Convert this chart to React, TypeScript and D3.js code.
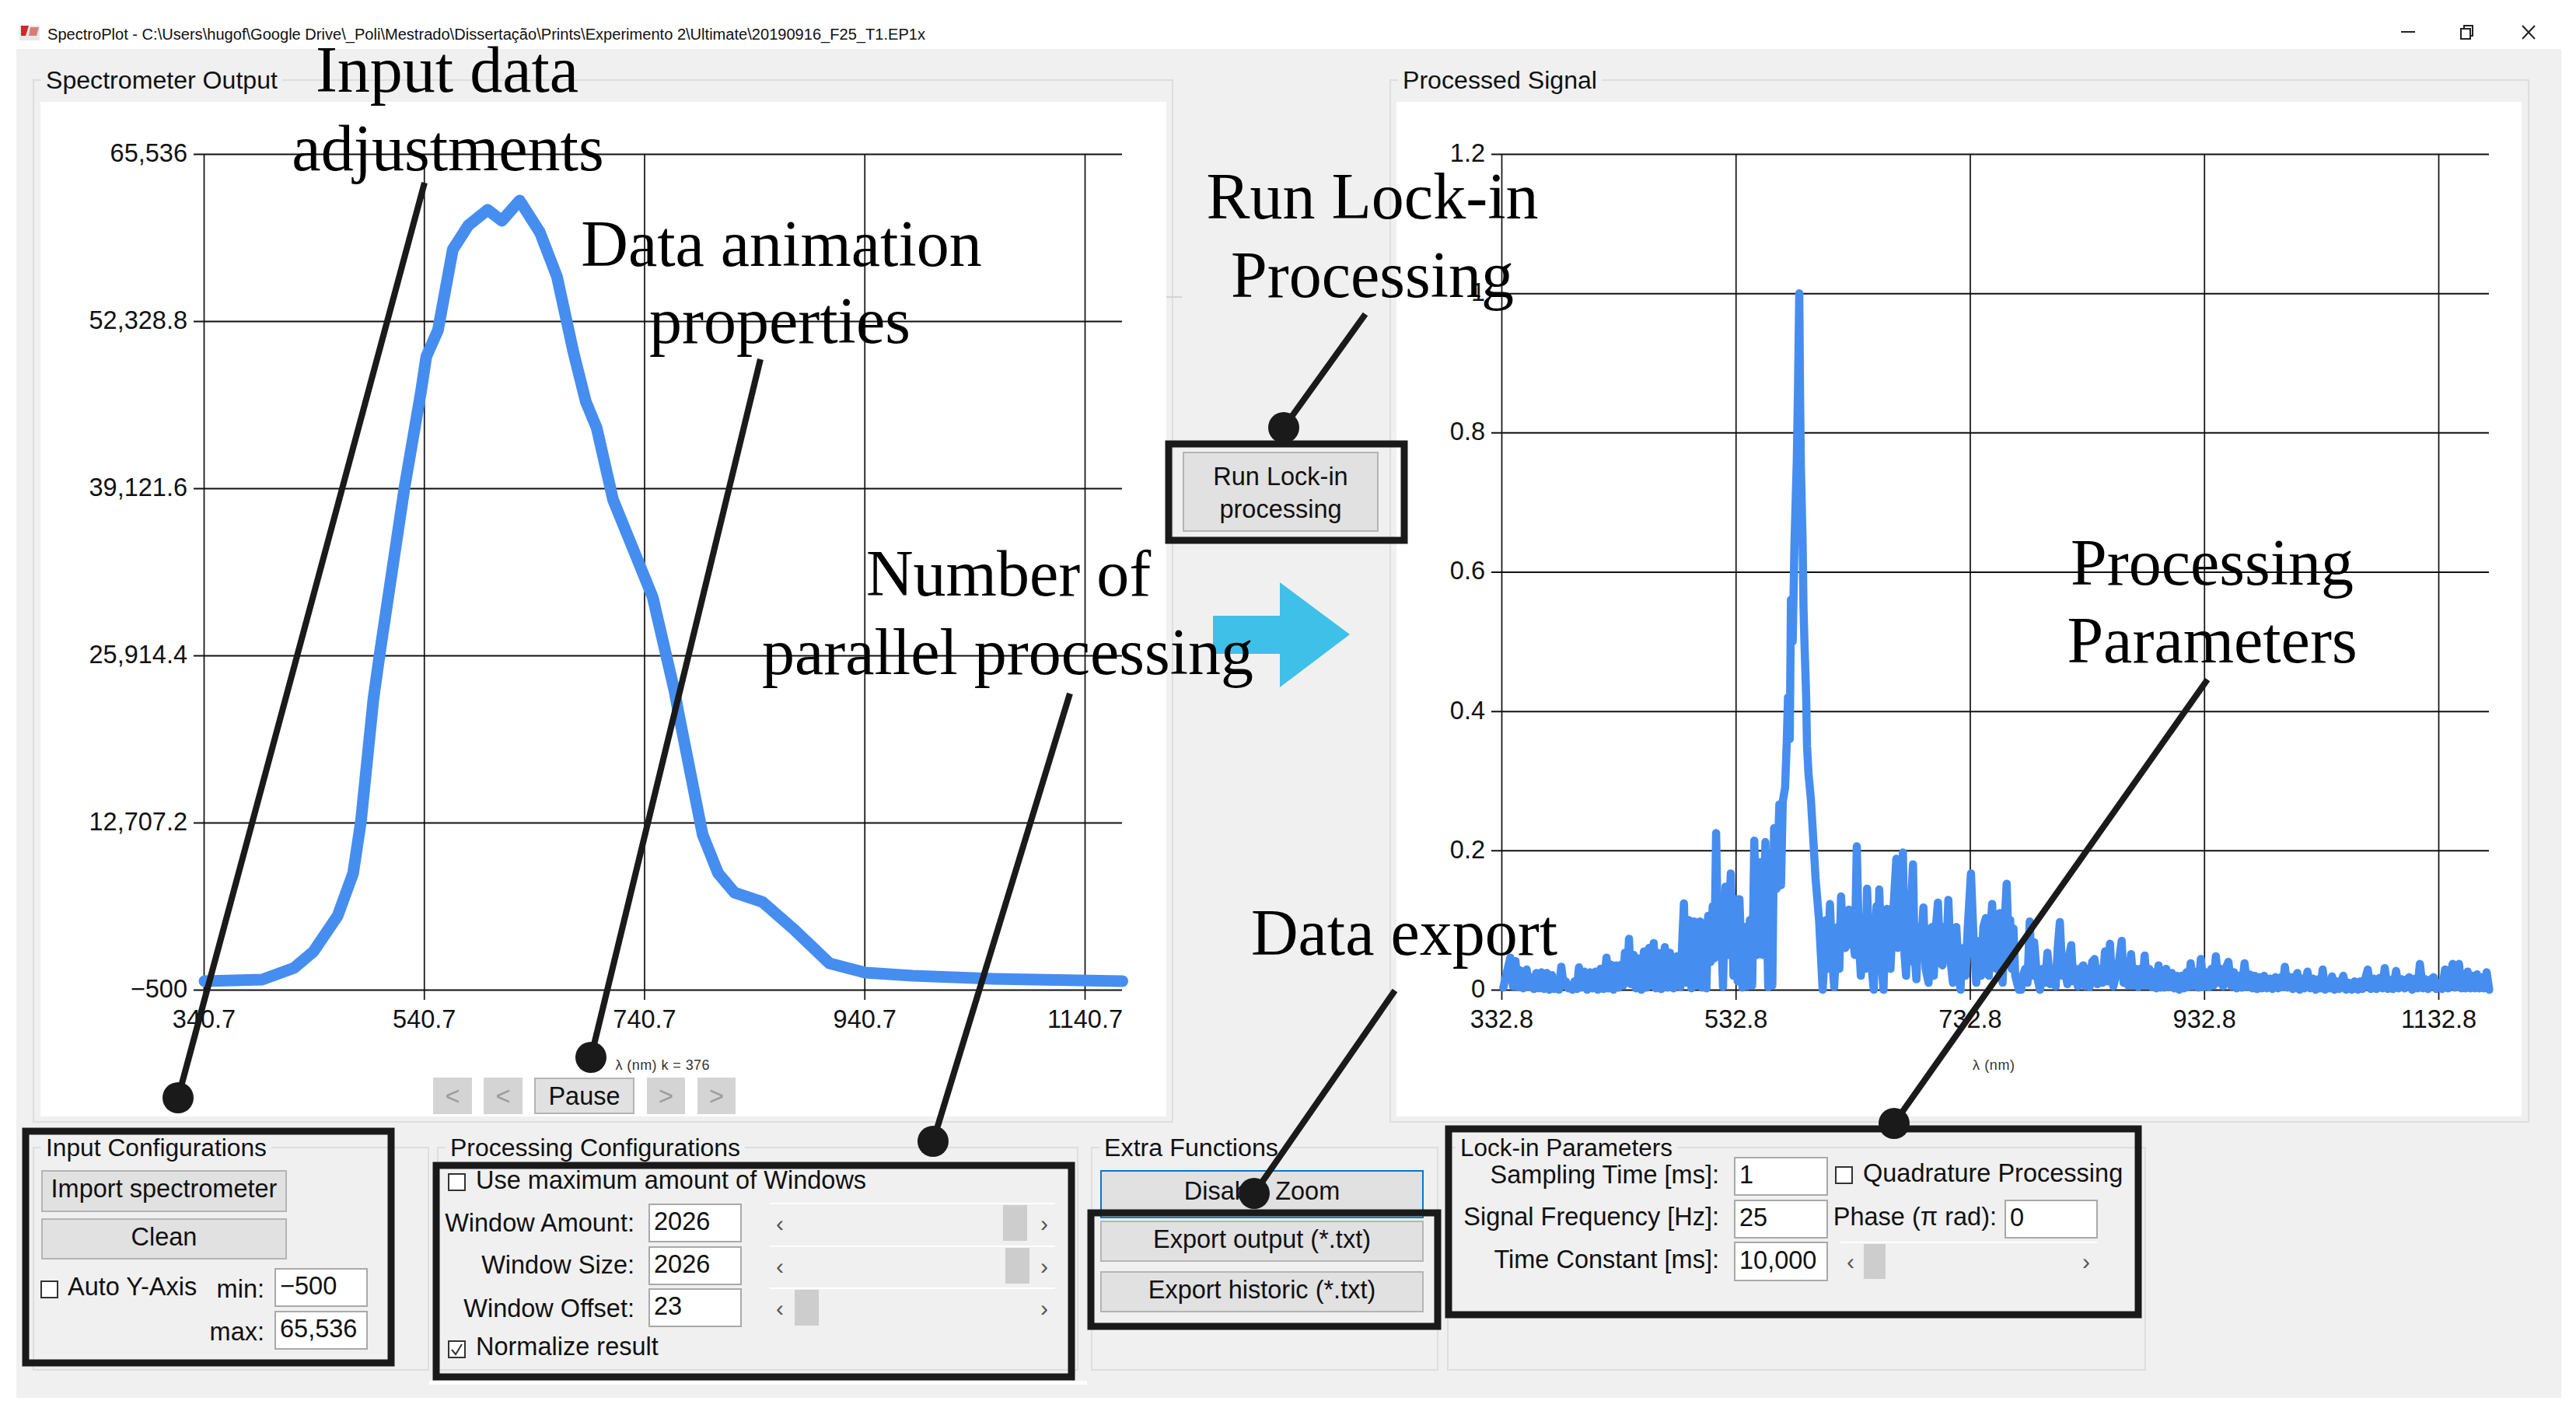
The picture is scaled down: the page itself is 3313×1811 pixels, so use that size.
import React, { useRef, useEffect } from "react";
import * as d3 from "d3";

// spectrometer output: [wavelength nm, counts]
const spectrometerCurve: [number, number][] = [
  [341.4, 177], [393.7, 300], [422.7, 1220], [440.3, 2509], [462.3, 5332], [476.4, 8707],
  [483.5, 12819], [494.8, 22454], [500.4, 25952], [523.0, 39147], [537.9, 46695], [542.8, 49518],
  [553.4, 51605], [566.9, 57987], [581.0, 59890], [598.6, 61117], [611.4, 60258], [627.6, 61854],
  [646.0, 59338], [661.5, 55840], [676.4, 49887], [687.7, 45959], [697.6, 43872], [712.4, 38226],
  [732.2, 33992], [748.5, 30494], [768.3, 23068], [771.8, 21411], [793.7, 11776], [807.8, 8707],
  [822.7, 7173], [848.1, 6437], [876.4, 4289], [908.9, 1588], [941.4, 852], [984.5, 607],
  [1057.3, 361], [1175, 177],
];
const spectrometerYTicks = [-500, 12707.2, 25914.4, 39121.6, 52328.8, 65536];
const spectrometerXTicks = [340.7, 540.7, 740.7, 940.7, 1140.7];

// processed signal, peak / trough pairs: [wavelength nm, amplitude]
const signalBlueSide: [number, number][] = [
  [334.4, 0.003], [340.4, 0.046], [342.7, 0.005], [344.8, 0.041], [346.6, 0.004], [348.4, 0.028], [351.3, 0.002],
  [354.3, 0.029], [356.4, 0.004], [358.4, 0.018], [360.5, 0.001], [362.6, 0.024], [365, 0.002], [367, 0.025],
  [369.1, 0.001], [371.5, 0.024], [373.6, 0], [375.9, 0.021], [378, 0.001], [379.8, 0.014], [381.9, 0],
  [383.9, 0.033], [386, 0.006], [387.8, 0.012], [389.9, 0.002], [391.6, 0.006], [393.4, 0], [395.2, 0.012],
  [397.3, 0.001], [399, 0.032], [401.1, 0.003], [403.5, 0.026], [405.9, 0], [408.5, 0.025], [410.6, 0.002],
  [413, 0.026], [415, 0], [417.4, 0.03], [419.8, 0.001], [422.5, 0.046], [424.2, 0.002], [426.3, 0.036],
  [428.4, 0], [430.8, 0.035], [432.8, 0.003], [435.2, 0.036], [436.7, 0.006], [438.2, 0.053], [439.9, 0.01],
  [441.7, 0.073], [443.5, 0.008], [445.6, 0.05], [447.7, 0.002], [450, 0.045], [452.1, 0], [454.5, 0.055],
  [456.5, 0.003], [458.9, 0.06], [460.7, 0.006], [462.8, 0.067], [464.6, 0.002], [466.3, 0.053], [469.3, 0.001],
  [472.3, 0.061], [474.3, 0.003], [476.7, 0.053], [479.7, 0.002], [482.6, 0.048], [485.6, 0.004], [488.6, 0.124],
  [490.6, 0.01], [493, 0.1], [495.1, 0.002], [497.4, 0.098], [499.8, 0.006], [502.5, 0.098], [504.3, 0.003],
  [506.3, 0.09], [507.8, 0.002], [509.3, 0.106], [511.4, 0.04], [513.2, 0.12], [514.6, 0.045], [516.1, 0.225],
  [517.9, 0.05], [519.7, 0.12], [522, 0.004], [524.1, 0.148], [526.2, 0.05], [528.6, 0.167], [530.9, 0.02],
  [533, 0.13], [534.5, 0.012], [536, 0.13], [538.6, 0.003], [541, 0.09], [542.8, 0.005], [544.9, 0.1],
  [546.9, 0.006], [548.7, 0.214], [551.1, 0.05], [553.8, 0.183], [555.8, 0.05], [558.2, 0.212], [560.6, 0.004],
  [562.7, 0.175], [564.1, 0.006], [565.6, 0.232], [567.7, 0.145], [570.1, 0.266], [571.5, 0.15], [573, 0.27],
];
const signalMainPeak: [number, number][] = [
  [575, 0.29], [576.5, 0.36], [577.5, 0.42], [579, 0.36], [580, 0.56], [581.5, 0.5], [583, 0.64], [585, 0.76],
  [586, 0.86], [587.1, 1], [587.8, 0.85], [588.5, 0.75], [590, 0.64], [590.7, 0.55], [591.5, 0.5], [593, 0.42],
  [593.7, 0.35], [595, 0.31], [597, 0.274], [599, 0.218], [601, 0.16], [604, 0.1], [607.1, 0],
];
const signalRedSide: [number, number][] = [
  [609, 0.06], [610.1, 0.1], [611.5, 0.03], [613.3, 0.123], [615, 0.05], [616.9, 0.004], [618.5, 0.06], [619.9, 0.09],
  [621.3, 0.03], [622.8, 0.134], [624.5, 0.07], [626.4, 0.06], [628, 0.09], [629.4, 0.115], [631, 0.065], [632.3, 0.09],
  [634.5, 0.05], [636.2, 0.206], [638, 0.07], [639.7, 0.02], [641, 0.07], [642.1, 0.08], [643.5, 0.03], [645, 0.145],
  [647, 0.05], [649, 0.03], [650.7, 0], [652, 0.08], [653.1, 0.12], [654.3, 0.04], [655.4, 0.144], [657.3, 0.04],
  [659, 0], [660.5, 0.08], [662, 0.116], [663.5, 0.05], [665, 0.03], [666.5, 0.09], [668, 0.13], [670, 0.188],
  [671, 0.06], [672.3, 0.09], [674, 0.07], [675.6, 0.197], [677, 0.05], [678.3, 0.02], [679.5, 0.1], [680.6, 0.04],
  [682.5, 0.12], [684.2, 0.18], [685.6, 0.05], [687.1, 0.015], [689, 0.09], [691, 0.06], [693.1, 0.118], [695, 0.03],
  [697.5, 0.01], [699, 0.08], [700.5, 0.09], [702, 0.02], [703.8, 0.09], [705.5, 0.125], [707.5, 0.04], [709.4, 0.035],
  [711, 0.09], [712.7, 0.05], [714.4, 0.129], [716.4, 0.04], [718.3, 0.01], [720, 0.08], [721.2, 0.09], [723, 0.03],
  [724.8, 0], [726, 0.05], [727.2, 0.06], [729, 0.02], [731, 0.09], [733.7, 0.167], [736, 0.07], [738.2, 0.01],
  [739.4, 0.06], [740.5, 0.07], [742.3, 0.02], [744.3, 0.09], [746.4, 0.103], [748, 0.03], [749, 0.02], [750.5, 0.09],
  [751.8, 0.123], [753.5, 0.04], [755.3, 0.03], [757, 0.09], [758.3, 0.11], [759.5, 0.03], [760.7, 0.01], [762.3, 0.09],
  [764.2, 0.152], [765.7, 0.07], [767.2, 0.1], [768.5, 0.03], [770, 0.088], [771.5, 0.02], [773, 0.01], [774.7, 0],
  [776.5, 0], [778, 0.02], [780, 0.03], [782, 0.01], [783.9, 0.098], [785.5, 0.02], [787.7, 0.068], [790, 0.02],
  [792.6, 0],
];
const signalNearInfrared: [number, number][] = [
  [795, 0.03], [797, 0.01], [799, 0.053], [801.3, 0.008], [803.8, 0.03], [806, 0.005], [807.8, 0.06], [809.6, 0.097],
  [811.8, 0.02], [814.1, 0.03], [816, 0.008], [817.7, 0.05], [819.3, 0.064], [821, 0.012], [823.1, 0.03], [825, 0.005],
  [827.2, 0.03], [829.6, 0.035], [831.3, 0.005], [833, 0.03], [835, 0.004], [837.2, 0.04], [839.2, 0.044], [841.6, 0.008],
  [844, 0.03], [846, 0.01], [848.2, 0.055], [850.3, 0.012], [852.4, 0.066], [854, 0.012], [855.3, 0.005], [857.5, 0.02],
  [860, 0.04], [862.4, 0.07], [864, 0.01], [866, 0.04], [868, 0.006], [870.4, 0.051], [872.5, 0.006], [874.6, 0.03],
  [876.5, 0.004], [878.5, 0.03], [880.3, 0.006], [882, 0.049], [884, 0.006], [885.9, 0.03], [888, 0.004], [890, 0.025],
  [891.8, 0.002], [893.9, 0.035], [895.5, 0.003], [897.1, 0.02], [898.8, 0.003], [900.4, 0.03], [902.8, 0.004], [905.2, 0.024],
  [907.3, 0.002], [909.5, 0.02], [911.6, 0], [913.6, 0.02], [915.7, 0.002], [917.8, 0.025], [919.5, 0.004], [921.3, 0.038],
  [923.4, 0.005], [925.5, 0.025], [927.8, 0.003], [930, 0.044], [932.4, 0.004], [934.8, 0.025], [937, 0.004], [939, 0.03],
  [940.8, 0.006], [942.8, 0.048], [945, 0.01], [947, 0.03], [949, 0.005], [951.2, 0.03], [953.5, 0.04], [956, 0.005],
  [958.3, 0.025], [960.5, 0.002], [963, 0.02], [965, 0.003], [967.3, 0.038], [969.5, 0.004], [971.8, 0.022], [974, 0.002],
  [976, 0.02], [978, 0.001], [980, 0.018], [982, 0.002], [984, 0.02], [986.5, 0.002], [988.9, 0.016], [991, 0.001],
  [993.7, 0.018], [996, 0.002], [998.5, 0.018], [1000, 0.004], [1001.7, 0.033], [1004, 0.003], [1006.6, 0.018], [1008.5, 0.001],
  [1010.5, 0.018], [1012.4, 0.024], [1014.3, 0], [1016.2, 0.016], [1018.5, 0.002], [1021, 0.026], [1023.5, 0.002], [1026, 0.016],
  [1028, 0], [1030.5, 0.015], [1032.2, 0.002], [1034, 0.029], [1036, 0], [1038, 0.013], [1040, 0.002], [1042, 0.019],
  [1044, 0], [1045.8, 0.012], [1048, 0.001], [1051.6, 0.02], [1054, 0], [1056.4, 0.01], [1059, 0], [1061.3, 0.012],
  [1064, 0], [1066, 0.012], [1068, 0.001], [1070.4, 0.016], [1072.5, 0.029], [1075, 0.001], [1077.4, 0.016], [1080, 0.001],
  [1082.5, 0.017], [1085, 0.002], [1087, 0.031], [1089.5, 0.001], [1091.8, 0.014], [1094, 0.001], [1096.7, 0.027], [1099, 0.002],
  [1101.5, 0.015], [1104, 0.002], [1106, 0.015], [1108, 0.018], [1110.5, 0], [1112.8, 0.016], [1115, 0.002], [1117, 0.037],
  [1119.5, 0.002], [1121.8, 0.015], [1124, 0.001], [1126.5, 0.015], [1128.8, 0.018], [1131, 0.001], [1133.7, 0.01], [1136, 0.001],
  [1138.5, 0.029], [1141, 0.002], [1143, 0.02], [1145, 0.037], [1147, 0.003], [1148.8, 0.025], [1150.4, 0.037], [1152.5, 0.002],
  [1154, 0.015], [1156, 0.002], [1157.8, 0.026], [1160, 0.002], [1162, 0.02], [1164, 0.002], [1165.8, 0.022], [1167.5, 0.002],
  [1169, 0.018], [1171.5, 0.002], [1174, 0.025], [1176.2, 0],
];
const signalYTicks = [0, 0.2, 0.4, 0.6, 0.8, 1, 1.2];
const signalXTicks = [332.8, 532.8, 732.8, 932.8, 1132.8];

const SANS = "'Liberation Sans', Arial, sans-serif";
const SERIF = "'Liberation Serif', 'Times New Roman', serif";
const INK = "#1a1a1a";
const BLUE = "#468df0";
const UI_SIZE = 32.5;

const PanelBox = ({ x, y, w, h, label, labelW }: any) => (
  <g>
    <rect x={x} y={y} width={w} height={h} fill="none" stroke="#dedede" strokeWidth={2} />
    <rect x={x + 10} y={y - 20} width={labelW + 12} height={40} fill="#f0f0f0" />
    <text x={x + 16} y={y} fontSize={31} fontFamily={SANS} dominantBaseline="central" textLength={labelW} lengthAdjust="spacingAndGlyphs" fill="#111">{label}</text>
  </g>
);

const Btn = ({ x, y, w, h, label, fill = "#e1e1e1", stroke = "#b4b4b4", color = "#111", dy = -3 }: any) => (
  <g>
    <rect x={x} y={y} width={w} height={h} fill={fill} stroke={stroke} strokeWidth={2} />
    {label && <text x={x + w / 2} y={y + h / 2 + dy} textAnchor="middle" dominantBaseline="central" fontSize={UI_SIZE} fontFamily={SANS} fill={color}>{label}</text>}
  </g>
);

const Field = ({ x, y, w, h, value }: any) => (
  <g>
    <rect x={x} y={y} width={w} height={h} fill="#fff" stroke="#a9a9a9" strokeWidth={2} />
    <text x={x + 6} y={y + h / 2 - 2} dominantBaseline="central" fontSize={UI_SIZE} fontFamily={SANS} fill="#111">{value}</text>
  </g>
);

const Label = ({ x, y, anchor = "end", children }: any) => (
  <text x={x} y={y - 3} textAnchor={anchor} dominantBaseline="central" fontSize={UI_SIZE} fontFamily={SANS} fill="#111">{children}</text>
);

const Check = ({ x, y, size = 21, checked = false }: any) => (
  <g>
    <rect x={x} y={y} width={size} height={size} fill="#fff" stroke="#333" strokeWidth={2} />
    {checked && <path d={`M${x + 4},${y + 11} L${x + 9},${y + 17} L${x + 17},${y + 4}`} fill="none" stroke="#333" strokeWidth={2} />}
  </g>
);

const ScrollBar = ({ x, y, w, thumbX, thumbW, h }: any) => (
  <g>
    <line x1={x} x2={x + w} y1={y - 2} y2={y - 2} stroke="#fff" strokeWidth={2} />
    <text x={x + 13} y={y + h / 2} textAnchor="middle" dominantBaseline="central" fontSize={30} fontFamily={SANS} fill="#555">‹</text>
    <text x={x + w - 14} y={y + h / 2} textAnchor="middle" dominantBaseline="central" fontSize={30} fontFamily={SANS} fill="#555">›</text>
    <rect x={thumbX} y={y} width={thumbW} height={h} fill="#cdcdcd" />
  </g>
);

const Pointer = ({ x1, y1, x2, y2 }: any) => (
  <g>
    <line x1={x1} y1={y1} x2={x2} y2={y2} stroke={INK} strokeWidth={8} />
    <circle cx={x2} cy={y2} r={20} fill={INK} />
  </g>
);

const Note = ({ x, y, children }: any) => (
  <text x={x} y={y} textAnchor="middle" fontSize={84} fontFamily={SERIF} fill="#000">{children}</text>
);

const BlackBox = ({ x, y, w, h }: any) => (
  <rect x={x} y={y} width={w} height={h} fill="none" stroke={INK} strokeWidth={9} />
);

const App = () => {
  const chartRef = useRef<SVGGElement>(null);

  useEffect(() => {
    if (!chartRef.current) return;
    const root = d3.select(chartRef.current);
    root.selectAll("*").remove();

    const drawPlot = (opts: any) => {
      const { xDomain, xRange, yDomain, yRange, rightEnd, xTicks, yTicks, yFormat, series, strokeWidth } = opts;
      const x = d3.scaleLinear().domain(xDomain).range(xRange);
      const y = d3.scaleLinear().domain(yDomain).range(yRange);
      const g = root.append("g");

      const xAxis = d3.axisBottom(x).tickValues(xTicks).tickFormat((d: any) => String(d)).tickSize(yRange[0] - yRange[1]);
      const xG = g.append("g").attr("transform", `translate(0,${yRange[1]})`).call(xAxis as any);
      xG.select(".domain").remove();
      xG.selectAll("line").attr("y2", yRange[0] - yRange[1] + 13).attr("stroke", "#111").attr("stroke-width", 1.7);
      xG.selectAll("text").attr("y", yRange[0] - yRange[1] + 38).attr("dy", null).attr("dominant-baseline", "central")
        .attr("font-size", 32.5).attr("font-family", SANS).attr("fill", "#111");

      const yAxis = d3.axisLeft(y).tickValues(yTicks).tickFormat(yFormat).tickSize(-(rightEnd - xRange[0]));
      const yG = g.append("g").attr("transform", `translate(${xRange[0]},0)`).call(yAxis as any);
      yG.select(".domain").remove();
      yG.selectAll("line").attr("x1", -13).attr("stroke", "#111").attr("stroke-width", 2);
      yG.selectAll("text").attr("x", -21).attr("dy", "-0.05em").attr("dominant-baseline", "central")
        .attr("font-size", 32.5).attr("font-family", SANS).attr("fill", "#111");

      const line = d3.line<[number, number]>().x((d) => x(d[0])).y((d) => y(d[1]));
      g.append("path").datum(series).attr("d", line as any).attr("fill", "none").attr("stroke", BLUE)
        .attr("stroke-width", strokeWidth).attr("stroke-linejoin", "round").attr("stroke-linecap", "round");
    };

    drawPlot({
      xDomain: [340.7, 1140.7], xRange: [262, 1395], yDomain: [-500, 65536], yRange: [1273, 198], rightEnd: 1443,
      xTicks: spectrometerXTicks, yTicks: spectrometerYTicks, yFormat: d3.format(","),
      series: spectrometerCurve, strokeWidth: 15,
    });
    drawPlot({
      xDomain: [332.8, 1132.8], xRange: [1931, 3136], yDomain: [0, 1.2], yRange: [1273, 198], rightEnd: 3201,
      xTicks: signalXTicks, yTicks: signalYTicks, yFormat: (d: any) => String(d),
      series: [...signalBlueSide, ...signalMainPeak, ...signalRedSide, ...signalNearInfrared], strokeWidth: 10.5,
    });
  }, []);

  return (
    <svg width={3313} height={1811} style={{ position: "absolute", left: 0, top: 0, background: "#fff" }}>
      {/* title bar */}
      <rect x={25} y={33} width={26} height={19} fill="#e8e8e8" />
      <path d="M27,33 L37,33 L33,46 L27,46 Z" fill="#d8232a" />
      <path d="M39,35 L50,35 L47,46 L37,46 Z" fill="#c33" opacity={0.6} />
      <text x={61} y={44} dominantBaseline="central" fontSize={20} fontFamily={SANS} fill="#111" textLength={1129} lengthAdjust="spacingAndGlyphs">
        {"SpectroPlot - C:\\Users\\hugof\\Google Drive\\_Poli\\Mestrado\\Dissertação\\Prints\\Experimento 2\\Ultimate\\20190916_F25_T1.EP1x"}
      </text>
      <line x1={3088} x2={3106} y1={41} y2={41} stroke="#222" strokeWidth={2} />
      <rect x={3165} y={37} width={12} height={13} fill="none" stroke="#222" strokeWidth={2} />
      <path d="M3169,37 L3169,33 L3180,33 L3180,46 L3177,46" fill="none" stroke="#222" strokeWidth={2} />
      <path d="M3244,33 L3260,50 M3260,33 L3244,50" stroke="#222" strokeWidth={2} />

      {/* window body */}
      <rect x={21} y={63} width={3273} height={1735} fill="#f0f0f0" />

      <PanelBox x={43} y={103} w={1465} h={1340} label="Spectrometer Output" labelW={298} />
      <rect x={52} y={131} width={1448} height={1305} fill="#fff" />
      <line x1={1500} x2={1520} y1={382} y2={382} stroke="#d4d4d4" strokeWidth={2} />
      <PanelBox x={1788} y={103} w={1464} h={1340} label="Processed Signal" labelW={250} />
      <rect x={1796} y={131} width={1447} height={1305} fill="#fff" />

      <g ref={chartRef} />

      <text x={852} y={1370} textAnchor="middle" dominantBaseline="central" fontSize={18} fontFamily={SANS} fill="#333" textLength={121}>λ (nm) k = 376</text>
      <text x={2564} y={1370} textAnchor="middle" dominantBaseline="central" fontSize={18} fontFamily={SANS} fill="#333" textLength={54}>λ (nm)</text>

      <Btn x={558} y={1387} w={48} h={45} label="<" fill="#d4d4d4" stroke="#d4d4d4" color="#9c9c9c" dy={0} />
      <Btn x={623} y={1387} w={48} h={45} label="<" fill="#d4d4d4" stroke="#d4d4d4" color="#9c9c9c" dy={0} />
      <Btn x={688} y={1387} w={127} h={45} label="Pause" dy={0} />
      <Btn x={833} y={1387} w={47} h={45} label=">" fill="#d4d4d4" stroke="#d4d4d4" color="#9c9c9c" dy={0} />
      <Btn x={898} y={1387} w={47} h={45} label=">" fill="#d4d4d4" stroke="#d4d4d4" color="#9c9c9c" dy={0} />

      {/* group boxes under the plots */}
      <PanelBox x={43} y={1476} w={508} h={286} label="Input Configurations" labelW={284} />
      <PanelBox x={563} y={1476} w={823} h={286} label="Processing Configurations" labelW={373} />
      <PanelBox x={1404} y={1476} w={445} h={286} label="Extra Functions" labelW={224} />
      <PanelBox x={1862} y={1476} w={897} h={286} label="Lock-in Parameters" labelW={273} />

      {/* input configurations */}
      <Btn x={54} y={1506} w={314} h={52} label="Import spectrometer" />
      <Btn x={54} y={1568} w={314} h={51} label="Clean" />
      <Check x={53} y={1648} />
      <Label x={87} y={1658} anchor="start">Auto Y-Axis</Label>
      <Label x={340} y={1661}>min:</Label>
      <Field x={354} y={1632} w={118} h={48} value="−500" />
      <Label x={340} y={1716}>max:</Label>
      <Field x={354} y={1687} w={118} h={48} value="65,536" />

      {/* processing configurations */}
      <Check x={577} y={1510} />
      <Label x={612} y={1521} anchor="start">Use maximum amount of Windows</Label>
      <Label x={816} y={1576}>Window Amount:</Label>
      <Field x={835} y={1549} w={118} h={48} value="2026" />
      <ScrollBar x={990} y={1550} w={367} h={46} thumbX={1290} thumbW={31} />
      <Label x={816} y={1630}>Window Size:</Label>
      <Field x={835} y={1604} w={118} h={48} value="2026" />
      <ScrollBar x={990} y={1605} w={367} h={46} thumbX={1293} thumbW={31} />
      <Label x={816} y={1686}>Window Offset:</Label>
      <Field x={835} y={1658} w={118} h={48} value="23" />
      <ScrollBar x={990} y={1659} w={367} h={46} thumbX={1022} thumbW={31} />
      <Check x={577} y={1725} checked />
      <Label x={612} y={1735} anchor="start">Normalize result</Label>

      {/* extra functions */}
      <Btn x={1416} y={1506} w={414} h={60} stroke="#0078d7" />
      <Label x={1623} y={1535} anchor="middle">Disable Zoom</Label>
      <Btn x={1416} y={1571} w={414} h={51} label="Export output (*.txt)" />
      <Btn x={1416} y={1636} w={414} h={51} label="Export historic (*.txt)" />

      {/* lock-in parameters */}
      <Label x={2211} y={1514}>Sampling Time [ms]:</Label>
      <Field x={2231} y={1489} w={119} h={48} value="1" />
      <Label x={2211} y={1568}>Signal Frequency [Hz]:</Label>
      <Field x={2231} y={1544} w={119} h={48} value="25" />
      <Label x={2211} y={1623}>Time Constant [ms]:</Label>
      <Field x={2231} y={1598} w={119} h={49} value="10,000" />
      <Check x={2361} y={1501} />
      <Label x={2396} y={1512} anchor="start">Quadrature Processing</Label>
      <Label x={2568} y={1568}>Phase (π rad):</Label>
      <Field x={2579} y={1544} w={118} h={48} value="0" />
      <ScrollBar x={2367} y={1600} w={330} h={45} thumbX={2397} thumbW={28} />

      {/* run button and arrow */}
      <Btn x={1522} y={582} w={250} h={101} />
      <Label x={1647} y={616} anchor="middle">Run Lock-in</Label>
      <Label x={1647} y={658} anchor="middle">processing</Label>
      <path d="M1560,792 L1646,792 L1646,749 L1736,816 L1646,884 L1646,841 L1560,841 Z" fill="#3fc0e8" />

      {/* annotation layer */}
      <rect x={552} y={1776} width={846} height={5} fill="#fff" />
      <BlackBox x={33} y={1455} w={470} h={298} />
      <BlackBox x={561} y={1499} w={817} h={272} />
      <BlackBox x={1403} y={1560} w={446} h={146} />
      <BlackBox x={1503} y={571} w={303} h={124} />
      <BlackBox x={1863} y={1452} w={887} h={239} />

      <Pointer x1={546} y1={235} x2={229} y2={1412} />
      <Pointer x1={978} y1={462} x2={760} y2={1360} />
      <Pointer x1={1376} y1={892} x2={1200} y2={1468} />
      <Pointer x1={1756} y1={404} x2={1651} y2={550} />
      <Pointer x1={2839} y1={874} x2={2436} y2={1445} />
      <Pointer x1={1794} y1={1274} x2={1613} y2={1535} />

      <Note x={575} y={118}>Input data</Note>
      <Note x={576} y={219}>adjustments</Note>
      <Note x={1005} y={342}>Data animation</Note>
      <Note x={1003} y={441}>properties</Note>
      <Note x={1297} y={766}>Number of</Note>
      <Note x={1296} y={867}>parallel processing</Note>
      <Note x={1765} y={281}>Run Lock-in</Note>
      <Note x={1765} y={382}>Processing</Note>
      <Note x={2845} y={752}>Processing</Note>
      <Note x={2845} y={852}>Parameters</Note>
      <Note x={1806} y={1228}>Data export</Note>
    </svg>
  );
};

export default App;
